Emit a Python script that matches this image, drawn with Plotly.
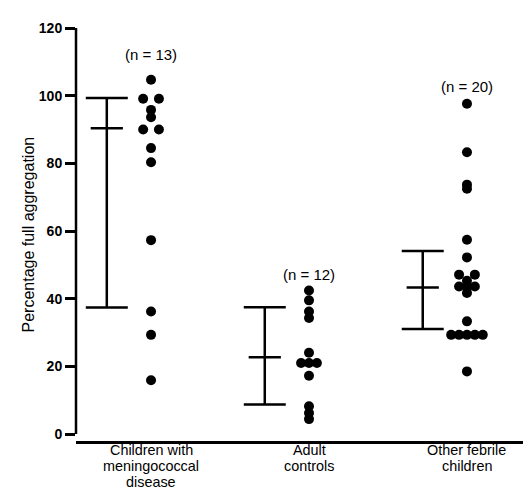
import plotly.graph_objects as go
from collections import Counter

# ---------------- data ----------------
categories = ["Children with<br>meningococcal<br>disease",
              "Adult<br>controls",
              "Other febrile<br>children"]
n_labels = ["(n = 13)", "(n = 12)", "(n = 20)"]

meningococcal = [104.7, 99.1, 99.1, 95.8, 93.6, 90.0, 90.0, 84.5, 80.3,
                 57.3, 36.2, 29.3, 15.9]
adult_controls = [42.4, 39.5, 36.2, 34.3, 24.0, 21.0, 21.0, 21.0, 17.2,
                  8.2, 6.2, 4.4]
other_febrile = [97.6, 83.3, 73.7, 72.5, 57.4, 52.2, 47.1, 47.1, 45.3,
                 43.6, 43.6, 43.6, 41.7, 33.3, 29.3, 29.3, 29.3, 29.3,
                 29.3, 18.5]
groups = [meningococcal, adult_controls, other_febrile]

bar_center = [90.4, 22.7, 43.3]
bar_lower = [37.4, 8.7, 31.0]
bar_upper = [99.3, 37.5, 54.1]

# ---------------- style ----------------
FONT = "Liberation Sans, Arial, sans-serif"
DOT_STEP = 0.05      # horizontal slot step in x-units for tied values
BAR_SHIFT = -0.28    # error bar offset from dot column
CAT_SIZE = 14.4
CAT_STEP = 16.2


def slot_offsets(values):
    """Spread identical values symmetrically around the column centre."""
    counts = Counter(values)
    seen = Counter()
    offs = []
    for v in values:
        n = counts[v]
        if n % 2:
            slots = list(range(-(n - 1) // 2, (n - 1) // 2 + 1))
        else:
            slots = list(range(-n // 2, 0)) + list(range(1, n // 2 + 1))
        offs.append(slots[seen[v]] * DOT_STEP)
        seen[v] += 1
    return offs


fig = go.Figure()

# dots
for i, vals in enumerate(groups):
    gx = i + 1
    offs = slot_offsets(vals)
    fig.add_trace(go.Scatter(
        x=[gx + o for o in offs], y=vals, mode="markers",
        marker=dict(size=10, color="black"),
        showlegend=False, hoverinfo="y"))

# error bars
fig.add_trace(go.Scatter(
    x=[i + 1 + BAR_SHIFT for i in range(len(groups))],
    y=bar_center, mode="markers",
    marker=dict(symbol="line-ew", size=23,
                line=dict(width=2.5, color="black"), color="black"),
    error_y=dict(type="data", symmetric=False,
                 array=[u - c for u, c in zip(bar_upper, bar_center)],
                 arrayminus=[c - l for c, l in zip(bar_center, bar_lower)],
                 color="black", thickness=2.5, width=21),
    showlegend=False, hoverinfo="skip"))

annotations = []
# n labels
n_label_y = [112.1, 47.1, 102.6]
for i, (lab, yy) in enumerate(zip(n_labels, n_label_y)):
    annotations.append(dict(x=i + 1, y=yy, xref="x", yref="y", text=lab,
                            showarrow=False, yanchor="middle",
                            font=dict(family=FONT, size=15, color="black")))
# category labels, one annotation per line for tight line spacing
for i, cat in enumerate(categories):
    for j, line in enumerate(cat.split("<br>")):
        annotations.append(dict(x=i + 1, y=0, xref="x", yref="paper",
                                text=line, showarrow=False,
                                yanchor="middle", borderpad=0,
                                yshift=-(8.5 + CAT_STEP * j),
                                font=dict(family=FONT, size=CAT_SIZE,
                                          color="black")))
# y-axis title
annotations.append(dict(x=20, y=0.5, xref="paper", yref="paper",
                        text="Percentage full aggregation", textangle=-90,
                        showarrow=False, xanchor="center", yanchor="middle",
                        font=dict(family=FONT, size=16, color="black")))

px_per_unit = (426 - 20) / 120.0
y_bottom = -(433 - 426) / px_per_unit

fig.update_layout(
    width=531, height=489,
    margin=dict(l=68, r=6, t=20, b=56),
    paper_bgcolor="white", plot_bgcolor="white",
    xaxis=dict(range=[0.525, 3.418], showgrid=False, zeroline=False,
               showticklabels=False, ticks="", showline=True,
               linecolor="black", linewidth=3),
    yaxis=dict(range=[y_bottom, 120], showgrid=False, zeroline=False,
               showline=False, ticks="outside", ticklen=10, tickwidth=2.5,
               tickcolor="black", tickvals=[0, 20, 40, 60, 80, 100, 120],
               tickfont=dict(family=FONT, size=14, color="black",
                             weight="bold")),
    shapes=[dict(type="line", xref="paper", yref="y", x0=0, x1=0,
                 y0=0, y1=120, line=dict(color="black", width=2.5))],
    annotations=annotations,
)

# convert y title x position from pixels to paper fraction
fig.layout.annotations[-1].x = (20 - 68) / (531 - 68 - 6)

fig.write_html("out.html")
